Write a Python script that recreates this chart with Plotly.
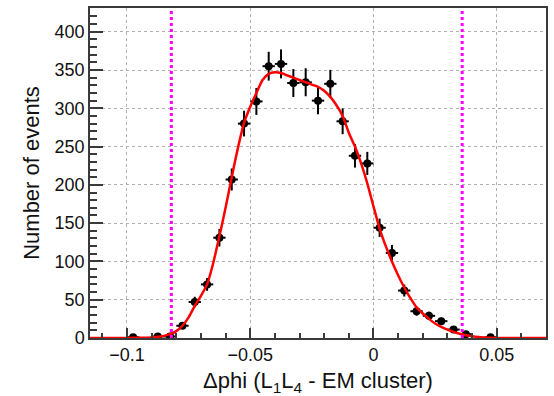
import numpy as np
import plotly.graph_objects as go

# Histogram bins (drawn, non-empty)
bin_centers = [-0.0975, -0.0875, -0.0825, -0.0775, -0.0725, -0.0675, -0.0625, -0.0575,
               -0.0525, -0.0475, -0.0425, -0.0375, -0.0325, -0.0275, -0.0225, -0.0175,
               -0.0125, -0.0075, -0.0025, 0.0025, 0.0075, 0.0125, 0.0175, 0.0225,
               0.0275, 0.0325, 0.0375, 0.0475]
counts = [1, 2, 2, 16, 47, 70, 131, 207,
          280, 309, 355, 358, 333, 334, 310, 332,
          283, 238, 228, 144, 111, 62, 35, 29,
          22, 11, 5, 1]
bin_width = 0.005

# Fit curve
fit_x = [-0.115, -0.105, -0.1, -0.095, -0.09, -0.0875, -0.085, -0.0825, -0.08, -0.0775,
         -0.075, -0.0725, -0.07, -0.0675, -0.065, -0.0625, -0.06, -0.0575, -0.055, -0.0525,
         -0.05, -0.0475, -0.045, -0.0425, -0.04, -0.0375, -0.035, -0.0325, -0.03, -0.0275,
         -0.025, -0.0225, -0.02, -0.0175, -0.015, -0.0125, -0.01, -0.0075, -0.005, -0.0025,
         0.0, 0.0025, 0.005, 0.0075, 0.01, 0.0125, 0.015, 0.0175, 0.02, 0.0225,
         0.025, 0.0275, 0.03, 0.0325, 0.035, 0.0375, 0.04, 0.0425, 0.045, 0.0475,
         0.05, 0.06, 0.07]
fit_y = [0, 0, 0.1, 0.3, 0.8, 1.5, 2.8, 5, 9, 16,
         27, 42, 55, 70, 98, 133, 170, 210, 248, 281,
         302, 320, 337, 345, 347, 346, 343, 340, 337, 334,
         331, 328, 323, 315, 304, 290, 268, 250, 228, 202,
         172, 143, 120, 100, 82, 66, 52, 40, 32, 25,
         19, 14.5, 11, 8, 5.5, 3.7, 2.3, 1.3, 0.7, 0.3,
         0.1, 0, 0]

cut_lines = [-0.082, 0.036]

x_tickvals = [-0.1, -0.05, 0, 0.05]
x_ticktext = ["\u22120.1", "\u22120.05", "0", "0.05"]
y_tickvals = [0, 50, 100, 150, 200, 250, 300, 350, 400]

errors = list(np.sqrt(np.array(counts, dtype=float)))

font = "Liberation Sans, Arial, Helvetica, sans-serif"
axcol = "#3a3a3a"

fig = go.Figure()
fig.add_trace(go.Scatter(
    x=bin_centers, y=counts, mode="markers",
    marker=dict(color="black", size=8, symbol="circle"),
    error_y=dict(type="data", array=errors, visible=True, color="black", thickness=2, width=0),
    error_x=dict(type="constant", value=bin_width / 2, visible=True, color="black", thickness=2, width=0),
    showlegend=False,
))
fig.add_trace(go.Scatter(
    x=fit_x, y=fit_y, mode="lines",
    line=dict(color="#ff0000", width=2.5, shape="spline", smoothing=0.6),
    showlegend=False,
))
for c in cut_lines:
    fig.add_vline(x=c, line=dict(color="#ff00ff", width=3, dash="dot"), layer="above")

fig.update_layout(
    width=554, height=396,
    margin=dict(l=90, r=6, t=8, b=57),
    paper_bgcolor="white", plot_bgcolor="white",
    font=dict(family=font, color="black", size=18),
    xaxis=dict(
        range=[-0.115, 0.07],
        tickvals=x_tickvals, ticktext=x_ticktext,
        ticks="inside", ticklen=10, tickwidth=1.5, tickcolor=axcol,
        minor=dict(dtick=0.01, tick0=0, ticks="inside", ticklen=5, tickwidth=1.5,
                   tickcolor=axcol, showgrid=False),
        showline=True, linecolor=axcol, linewidth=1.5, mirror=True,
        showgrid=True, gridcolor="#b0b0b0", griddash="dot", gridwidth=1,
        zeroline=False,
        tickfont=dict(size=18, color="#111"),
        title=dict(text="\u0394phi (L<sub>1</sub>L<sub>4</sub> - EM cluster)",
                   font=dict(size=22, color="#111"), standoff=9),
    ),
    yaxis=dict(
        range=[0, 431],
        tickvals=y_tickvals,
        ticks="inside", ticklen=13, tickwidth=1.5, tickcolor=axcol,
        minor=dict(dtick=10, tick0=0, ticks="inside", ticklen=7, tickwidth=1.5,
                   tickcolor=axcol, showgrid=False),
        showline=True, linecolor=axcol, linewidth=1.5, mirror=True,
        showgrid=True, gridcolor="#b0b0b0", griddash="dot", gridwidth=1,
        zeroline=False,
        tickfont=dict(size=18, color="#111"),
        title=dict(text="Number of events", font=dict(size=22, color="#111"), standoff=9),
    ),
)

fig.write_html("out.html")
